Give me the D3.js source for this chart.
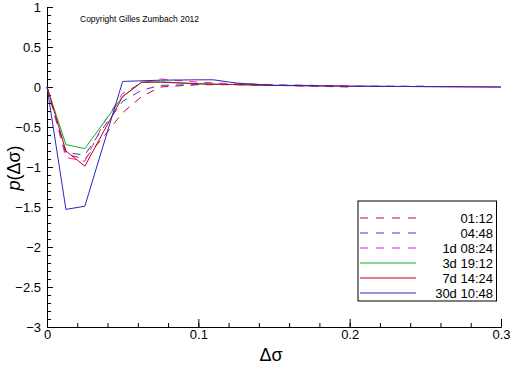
<!DOCTYPE html>
<html>
<head>
<meta charset="utf-8">
<script src="https://cdn.jsdelivr.net/npm/d3@7"></script>
<style>
  body { margin: 0; background: #fff; }
  svg { display: block; font-family: "Liberation Sans", Arial, sans-serif; }
  .tick text { font-size: 13px; fill: #000; }
</style>
</head>
<body>
<div id="chart"></div>
<script>
const margin = {top: 7, right: 11, bottom: 39, left: 47};
const width = 512 - margin.left - margin.right;
const height = 366 - margin.top - margin.bottom;

// series labels, colours, dash
const seriesNames = ["01:12", "04:48", "1d 08:24", "3d 19:12", "7d 14:24", "30d 10:48"];
const seriesColors = ["#c0102c", "#3a3ac8", "#e020c8", "#10b020", "#c80018", "#2828c0"];
const seriesDashed = [true, true, true, false, false, false];

// x values per series
const x0112 = [0, 0.0125, 0.025, 0.0375, 0.05, 0.0625, 0.075, 0.1, 0.125, 0.15, 0.175, 0.2];
const y0112 = [0, -0.84, -0.9, -0.62, -0.32, -0.12, 0.0, 0.03, 0.03, 0.02, 0.01, 0.0];
const x0448 = [0, 0.0125, 0.025, 0.0375, 0.05, 0.0625, 0.075, 0.1, 0.125, 0.15, 0.175, 0.2, 0.25];
const y0448 = [0, -0.82, -0.85, -0.5, -0.18, -0.04, 0.02, 0.03, 0.03, 0.02, 0.02, 0.01, 0.01];
const x1d = [0, 0.0125, 0.025, 0.0375, 0.05, 0.0625, 0.075, 0.1, 0.125, 0.15, 0.175, 0.2];
const y1d = [0, -0.88, -0.93, -0.45, -0.08, 0.05, 0.1, 0.06, 0.04, 0.03, 0.02, 0.01];
const x3d = [0, 0.0125, 0.025, 0.05, 0.0625, 0.075, 0.1, 0.125, 0.15, 0.175];
const y3d = [0, -0.72, -0.77, -0.12, 0.06, 0.065, 0.04, 0.03, 0.02, 0.02];
const x7d = [0, 0.0125, 0.025, 0.05, 0.0625, 0.075, 0.1, 0.125, 0.15, 0.2, 0.3];
const y7d = [0, -0.8, -0.99, -0.12, 0.06, 0.06, 0.04, 0.03, 0.02, 0.01, 0.0];
const x30d = [0, 0.0125, 0.025, 0.05, 0.075, 0.1, 0.11, 0.125, 0.15, 0.2, 0.3];
const y30d = [0, -1.53, -1.49, 0.07, 0.085, 0.09, 0.09, 0.05, 0.02, 0.01, 0.0];

const seriesX = [x0112, x0448, x1d, x3d, x7d, x30d];
const seriesY = [y0112, y0448, y1d, y3d, y7d, y30d];

const yTicks = [1, 0.5, 0, -0.5, -1, -1.5, -2, -2.5, -3];
const xTicks = [0, 0.1, 0.2, 0.3];

const svg = d3.select('#chart')
    .append('svg')
    .attr('width', 512)
    .attr('height', 366)
    .append('g')
    .attr('transform', 'translate(' + margin.left + ',' + margin.top + ')');

const x = d3.scaleLinear().domain([0, 0.3]).range([0, width]);
const y = d3.scaleLinear().domain([-3, 1]).range([height, 0]);

// minor ticks first
svg.append('g')
    .attr('transform', 'translate(0,' + height + ')')
    .call(d3.axisBottom(x).tickValues(d3.range(0, 0.3001, 0.02)).tickSize(-4).tickFormat(''))
    .call(g => g.select('.domain').remove());
svg.append('g')
    .call(d3.axisLeft(y).tickValues(d3.range(-3, 1.001, 0.1)).tickSize(-4).tickFormat(''))
    .call(g => g.select('.domain').remove());

// major axes
svg.append('g')
    .attr('transform', 'translate(0,' + height + ')')
    .call(d3.axisBottom(x).tickValues(xTicks).tickSize(-8).tickPadding(3).tickFormat(d3.format('')));

svg.append('g')
    .call(d3.axisLeft(y).tickValues(yTicks).tickSize(-6).tickPadding(10).tickFormat(d3.format('')))
    .selectAll('.tick text').attr('dx', '4');

svg.selectAll('.domain').attr('stroke', '#000');
svg.selectAll('.tick line').attr('stroke', '#000');

// lines
const line = d3.line().x(d => x(d[0])).y(d => y(d[1]));
seriesNames.forEach((name, i) => {
    const pts = seriesX[i].map((v, j) => [v, seriesY[i][j]]);
    svg.append('path')
        .datum(pts)
        .attr('fill', 'none')
        .attr('stroke', seriesColors[i])
        .attr('stroke-width', 1)
        .attr('stroke-dasharray', seriesDashed[i] ? '8,7' : null)
        .attr('d', line);
});

// copyright
svg.append('text')
    .attr('x', 80 - margin.left)
    .attr('y', 22 - margin.top)
    .attr('font-size', '8.5px')
    .text('Copyright Gilles Zumbach 2012');

// axis titles
svg.append('text')
    .attr('x', 271 - margin.left)
    .attr('y', 361 - margin.top)
    .attr('text-anchor', 'middle')
    .attr('font-size', '18px')
    .text('\u0394\u03c3');

svg.append('text')
    .attr('transform', 'translate(' + (20 - margin.left) + ',' + (168 - margin.top) + ') rotate(-90)')
    .attr('text-anchor', 'middle')
    .attr('font-size', '18px')
    .call(t => {
        t.append('tspan').attr('font-style', 'italic').text('p');
        t.append('tspan').text('(\u0394\u03c3)');
    });

// legend
const lg = svg.append('g').attr('transform', 'translate(' + (358 - margin.left) + ',' + (201 - margin.top) + ')');
lg.append('rect')
    .attr('width', 138.5).attr('height', 100)
    .attr('fill', '#fff').attr('stroke', '#000');
seriesNames.forEach((name, i) => {
    const yy = 17 + i * 15;
    lg.append('line')
        .attr('x1', 2).attr('x2', 58)
        .attr('y1', yy).attr('y2', yy)
        .attr('stroke', seriesColors[i])
        .attr('stroke-dasharray', seriesDashed[i] ? '8,8' : null);
    lg.append('text')
        .attr('x', 135).attr('y', yy + 4.5)
        .attr('text-anchor', 'end')
        .attr('font-size', '13px')
        .text(name);
});
</script>
</body>
</html>
